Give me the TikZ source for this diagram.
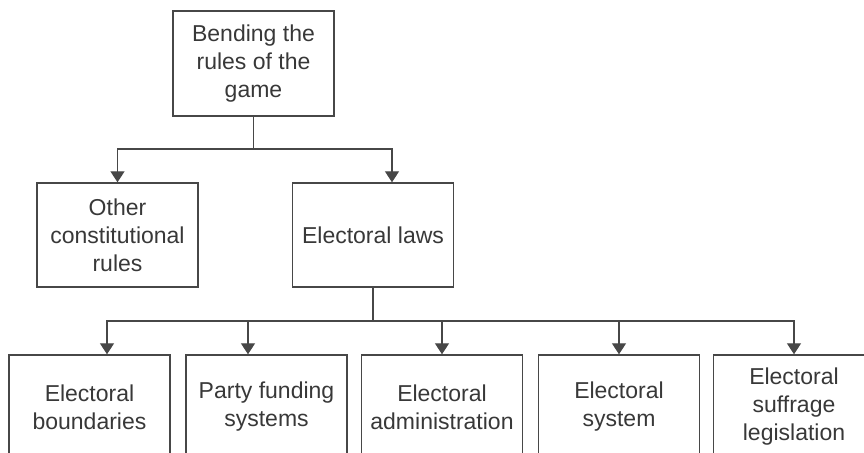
\documentclass[tikz,border=0pt]{standalone}
\usepackage{fontspec}
\setmainfont{Liberation Sans}
\usetikzlibrary{arrows.meta,calc}
\definecolor{linegray}{gray}{0.28}
\definecolor{textgray}{gray}{0.22}
\begin{document}
\begin{tikzpicture}[x=0.5pt,y=-0.5pt,
  box/.style={draw=linegray,line width=0.7pt,minimum width=80.5pt,minimum height=52pt,inner sep=0pt,align=center,text=textgray,font=\fontsize{11.5pt}{14pt}\selectfont},
  conn/.style={draw=linegray,line width=0.7pt},
  arr/.style={conn,-{Triangle[width=7pt,length=5.5pt]}}]
\useasboundingbox (0,0) rectangle (864,453);
\clip (0,0) rectangle (864,453);
\node[box,minimum height=52.5pt] (top) at (253.5,63.5) {Bending the\\rules of the\\game};
\node[box] (other) at (117.5,235) {Other\\constitutional\\rules};
\node[box] (laws) at (373,235) {Electoral laws};
\node[box] (b1) at (89.5,407) {Electoral\\boundaries};
\node[box] (b2) at (266.5,407) {Party funding\\systems};
\node[box] (b3) at (442,407) {Electoral\\administration};
\node[box] (b4) at (619,407) {Electoral\\system};
\node[box] (b5) at (794,407) {Electoral\\suffrage\\legislation};
\coordinate (j1) at (253.5,149);
\coordinate (j2) at (373,321);
\draw[conn] (top.south) -- (j1);
\draw[arr] (j1) -| (other.north);
\draw[arr] (j1) -| ([xshift=9.5pt]laws.north);
\draw[conn] (laws.south) -- (j2);
\draw[arr] (j2) -| ([xshift=8.75pt]b1.north);
\draw[arr] (j2) -| ([xshift=-9.25pt]b2.north);
\draw[arr] (j2) -| (b3.north);
\draw[arr] (j2) -| (b4.north);
\draw[arr] (j2) -| (b5.north);
\end{tikzpicture}
\end{document}
